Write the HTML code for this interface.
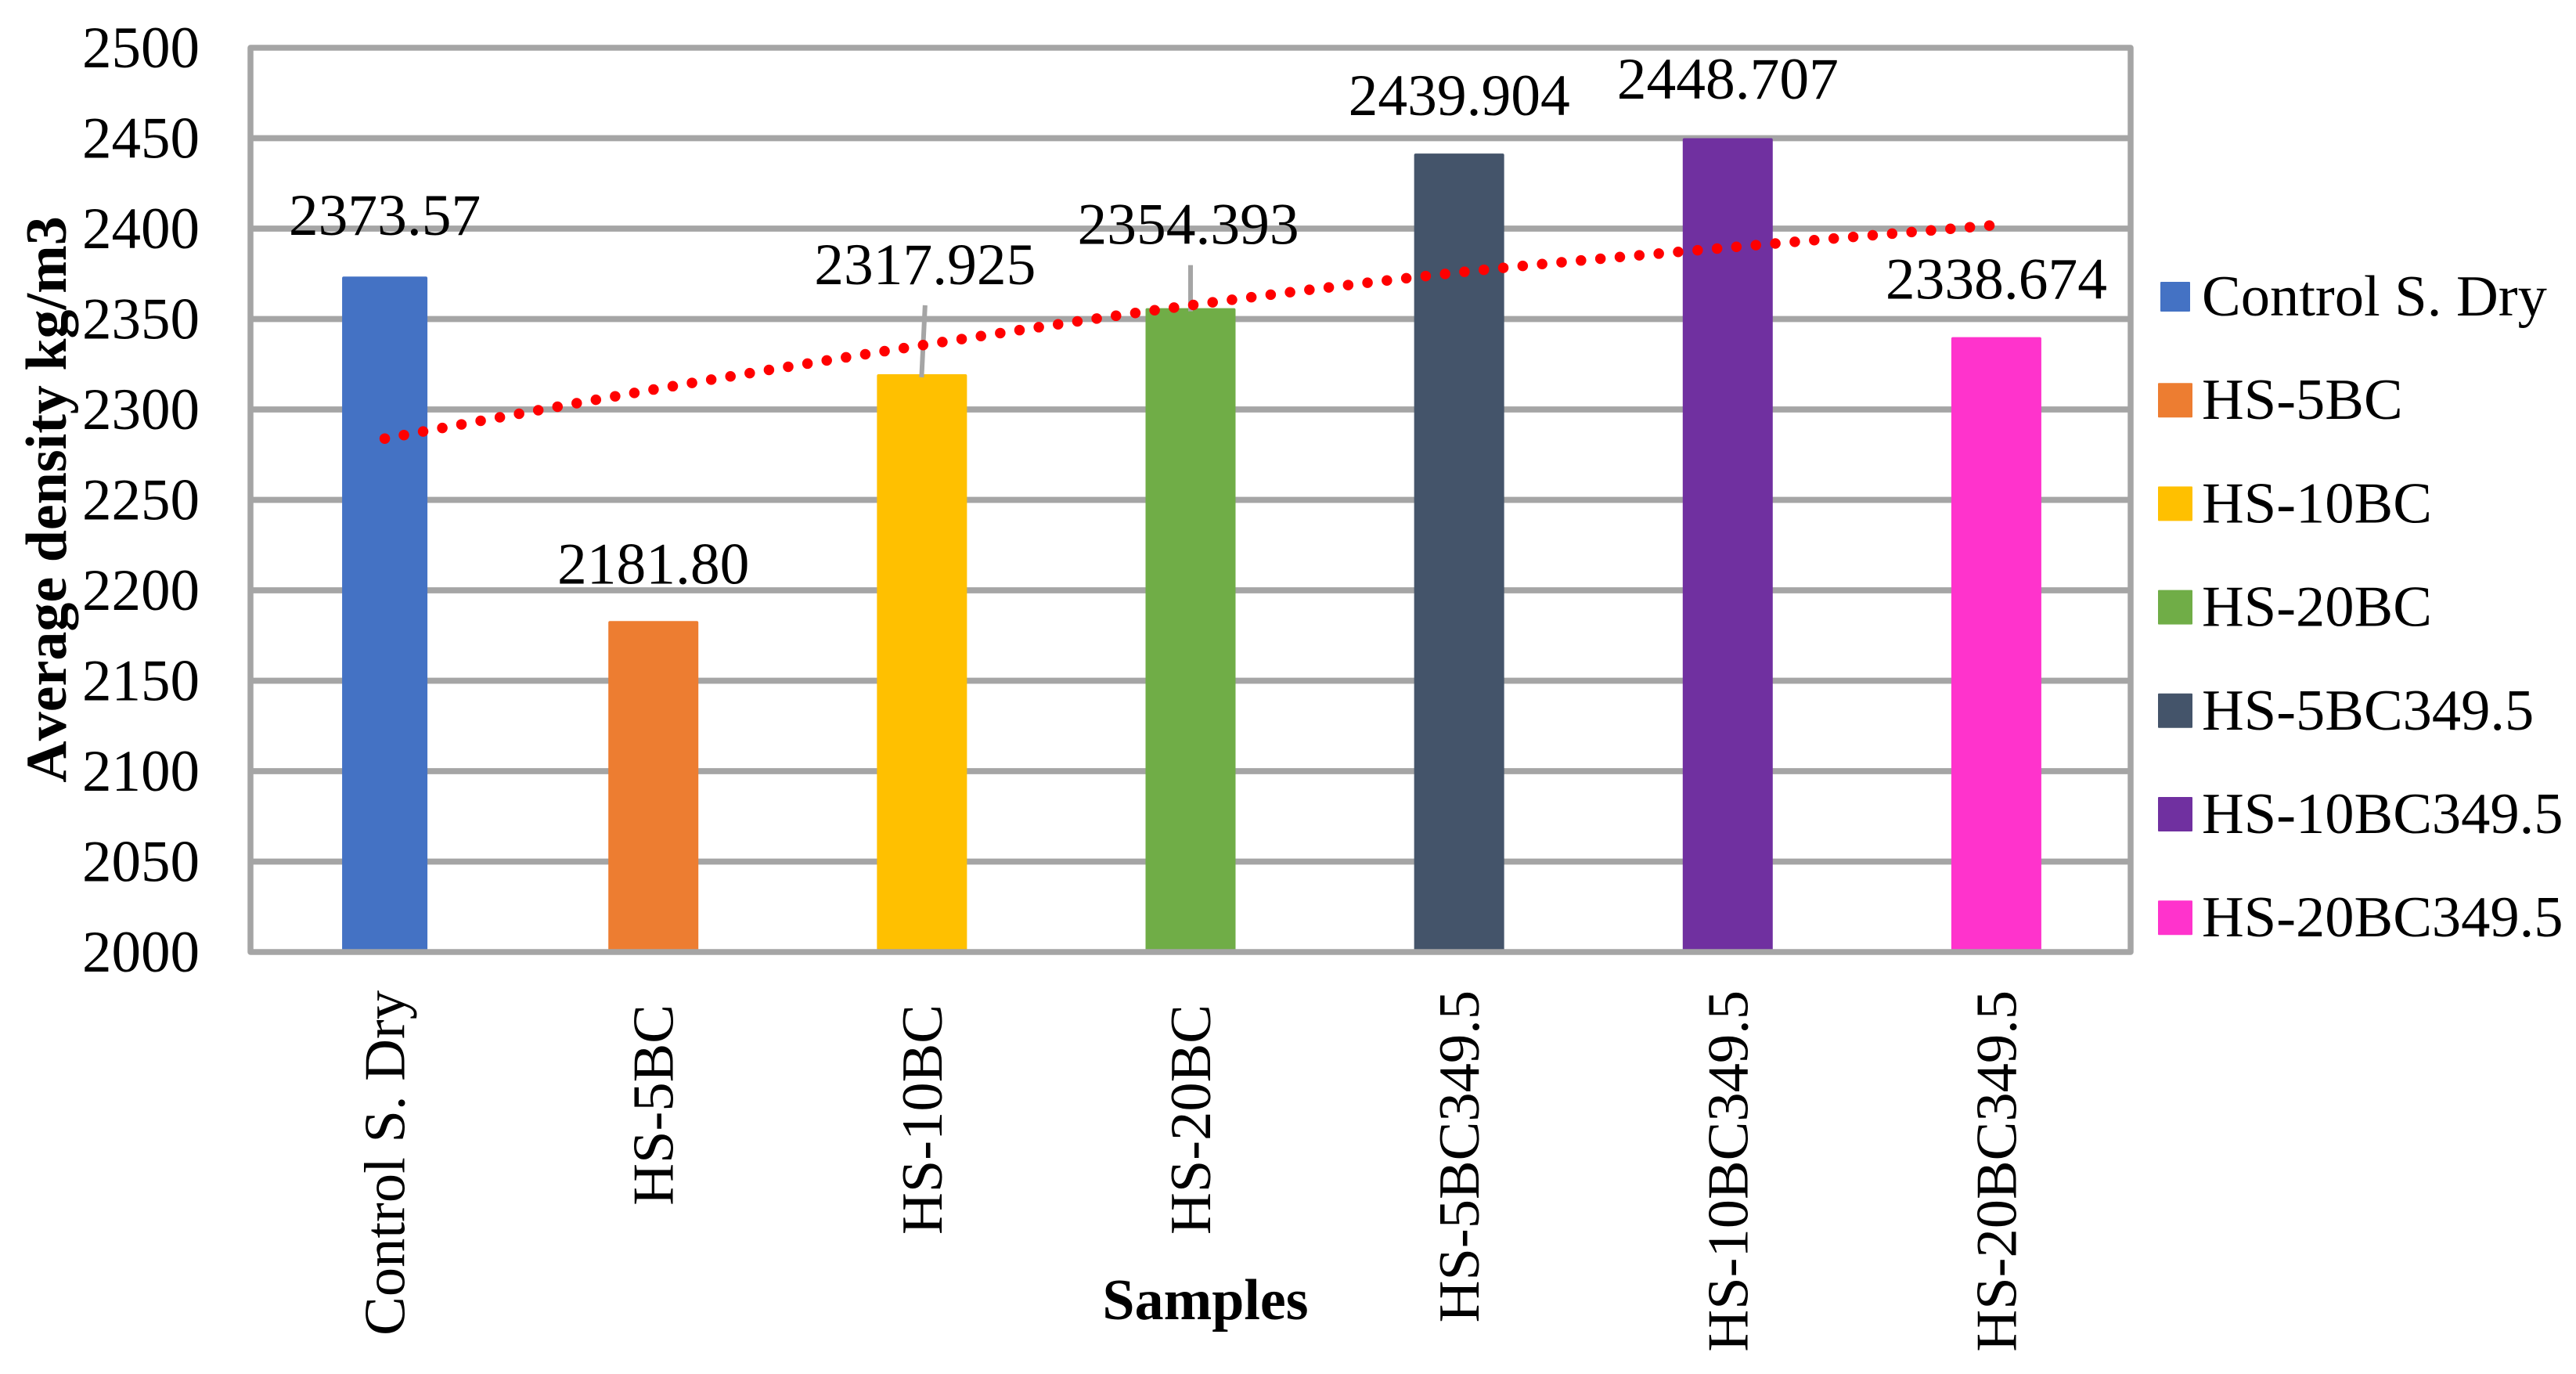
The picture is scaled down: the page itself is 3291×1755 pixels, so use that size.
<!DOCTYPE html>
<html lang="en">
<head>
<meta charset="utf-8">
<title>Average density by sample</title>
<style>
  html, body { margin: 0; padding: 0; background: #fff; }
  svg { display: block; }
  text { font-family: "Liberation Serif", "Times New Roman", serif; fill: #000; font-size: 74.5px; font-kerning: none; }
  .bold { font-weight: bold; font-size: 74px; }
  .tick { font-size: 75px; }
  .value { font-size: 75.5px; }
</style>
</head>
<body>
<svg id="chart" xmlns="http://www.w3.org/2000/svg" width="3291" height="1755" viewBox="0 0 3291 1755">
  <rect x="0" y="0" width="3291" height="1755" fill="#ffffff"/>
  <g id="grid"></g>
  <g id="bars"></g>
  <rect x="320" y="61" width="2402" height="1155" fill="none" stroke="#a5a5a5" stroke-width="7.5" stroke-linejoin="round"/>
  <g id="leaders"></g>
  <g id="trend"></g>
  <g id="yticks"></g>
  <g id="xticks"></g>
  <g id="labels"></g>
  <g id="legend"></g>
  <text class="bold" text-anchor="middle" transform="translate(84 638) rotate(-90)">Average density kg/m3</text>
  <text class="bold" text-anchor="middle" x="1540" y="1685">Samples</text>
</svg>
<script>
const categories = ["Control S. Dry", "HS-5BC", "HS-10BC", "HS-20BC", "HS-5BC349.5", "HS-10BC349.5", "HS-20BC349.5"];
const barValues = [2373.5, 2183, 2319.5, 2356, 2441.5, 2450, 2340];
const printedValues = ["2373.57", "2181.80", "2317.925", "2354.393", "2439.904", "2448.707", "2338.674"];
const barColors = ["#4472C4", "#ED7D31", "#FFC000", "#70AD47", "#44546A", "#7030A0", "#FF33CC"];
const yTickLabels = [2000, 2050, 2100, 2150, 2200, 2250, 2300, 2350, 2400, 2450, 2500];
const trendValues = [2283.9, 2311, 2335.5, 2357.6, 2375.8, 2389.5, 2402];

const NS = "http://www.w3.org/2000/svg";
const plotLeft = 320, plotRight = 2722, plotBottom = 1216, pxPerUnit = 2.31, axisMin = 2000;
const band = (plotRight - plotLeft) / categories.length;
function x(i) { return plotLeft + band * (i + 0.5); }
function y(v) { return plotBottom - (v - axisMin) * pxPerUnit; }
function mk(parent, tag, attrs, content) {
  const el = document.createElementNS(NS, tag);
  for (const k in attrs) el.setAttribute(k, attrs[k]);
  if (content !== undefined) el.textContent = content;
  document.getElementById(parent).appendChild(el);
  return el;
}

// gridlines and y ticks
yTickLabels.forEach(function (t) {
  if (t !== yTickLabels[0] && t !== yTickLabels[yTickLabels.length - 1]) {
    const line = mk("grid", "line", { x1: plotLeft, x2: plotRight, y1: y(t), y2: y(t), stroke: "#a5a5a5", "stroke-width": 7.7 });
    
    
  }
  const label = mk("yticks", "text", { class: "tick", x: 255, y: y(t) + 25, "text-anchor": "end" }, String(t));
  
  
});

// bars and category labels
categories.forEach(function (name, i) {
  const w = i === 0 ? 109 : 115;
  const top = y(barValues[i]);
  const bar = mk("bars", "rect", { x: x(i) - w / 2, y: top, width: w, height: plotBottom - top, fill: barColors[i], rx: 2 });
  
  

  const endY = name.endsWith("C") ? 1283 : 1265;
  const tick = mk("xticks", "text", { "text-anchor": "end", transform: "translate(" + (x(i) + 25) + " " + endY + ") rotate(-90)" }, name);
  
  
});

// manually placed data labels: lift above the bar top
const labelLift = [53, 48, 115, 82, 49, 50.5, 49];
printedValues.forEach(function (txt, i) {
  const baseline = y(barValues[i]) - labelLift[i];
  const cx = x(i) + (i === 2 ? 4 : i === 3 ? -3 : 0);
  const label = mk("labels", "text", { class: "value", x: cx, y: baseline, "text-anchor": "middle" }, txt);
  
  
  if (i === 2 || i === 3) {
    const leader = mk("leaders", "line", { x1: x(i) + (i === 2 ? 4 : 0), y1: baseline + 27, x2: x(i) - (i === 2 ? 0.5 : 0), y2: y(barValues[i]) + 4, stroke: "#a5a5a5", "stroke-width": 6 });
    
    
  }
});

// curved trendline through the values read at each category (Catmull-Rom smoothing)
function trendPath() {
  const pts = trendValues.map(function (v, i) { return [x(i), y(v)]; });
  let d = "M" + pts[0][0] + " " + pts[0][1];
  for (let i = 0; i < pts.length - 1; i++) {
    const p0 = pts[Math.max(i - 1, 0)], p1 = pts[i], p2 = pts[i + 1], p3 = pts[Math.min(i + 2, pts.length - 1)];
    const c1x = p1[0] + (p2[0] - p0[0]) / 6, c1y = p1[1] + (p2[1] - p0[1]) / 6;
    const c2x = p2[0] - (p3[0] - p1[0]) / 6, c2y = p2[1] - (p3[1] - p1[1]) / 6;
    d += "C" + c1x + " " + c1y + " " + c2x + " " + c2y + " " + p2[0] + " " + p2[1];
  }
  return d;
}
const trend = mk("trend", "path", {
  d: trendPath(), fill: "none",
  stroke: "#ff0000", "stroke-width": 13.5, "stroke-linecap": "round", "stroke-dasharray": "0 24.93"
});



// legend
categories.forEach(function (name, i) {
  const cy = 379 + 132.2 * i;
  const s = i === 0 ? 38 : 44;
  const swatch = mk("legend", "rect", { x: 2779 - s / 2, y: cy - s / 2, width: s, height: s, fill: barColors[i], rx: 1 });
  
  
  const label = mk("legend", "text", { x: 2813, y: cy + 24 }, name);
  
  
});
</script>
</body>
</html>
